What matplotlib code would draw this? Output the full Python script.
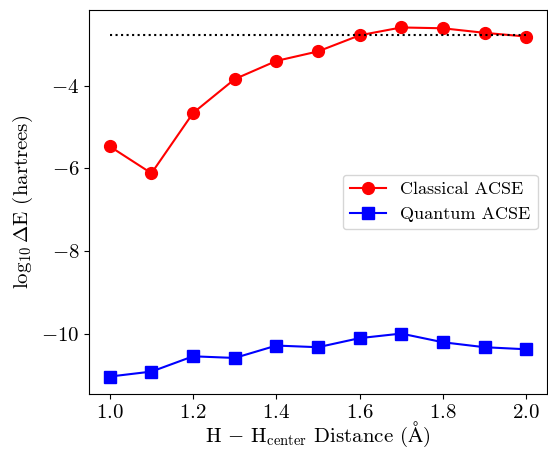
import numpy as np
import matplotlib
matplotlib.use("Agg")
import matplotlib.pyplot as plt

# data
distance = [1.0, 1.1, 1.2, 1.3, 1.4, 1.5, 1.6, 1.7, 1.8, 1.9, 2.0]
classical = [-5.47, -6.12, -4.66, -3.84, -3.40, -3.17, -2.78, -2.59, -2.61, -2.72, -2.81]
quantum = [-11.04, -10.92, -10.55, -10.59, -10.29, -10.33, -10.11, -10.00, -10.21, -10.33, -10.38]
reference_level = -2.77

plt.rcParams["font.family"] = "serif"
plt.rcParams["font.serif"] = ["cmr10"]
plt.rcParams["mathtext.fontset"] = "cm"
plt.rcParams["axes.formatter.use_mathtext"] = True

fig = plt.figure(figsize=(5.48, 4.49), dpi=100)
ax = fig.add_axes([89 / 548, 1 - 394 / 449, 458 / 548, 384 / 449])

ax.plot(distance, classical, "r-o", markersize=8.5, label="Classical ACSE")
ax.plot(distance, quantum, "b-s", markersize=8.5, label="Quantum ACSE")
ax.plot([distance[0], distance[-1]], [reference_level, reference_level], "k:")

ax.set_xticks([1.0, 1.2, 1.4, 1.6, 1.8, 2.0])
ax.set_yticks([-10, -8, -6, -4])
ax.tick_params(labelsize=15)
ax.set_xlabel(r"$\mathrm{H}\,-\,\mathrm{H}_{\mathrm{center}}$ Distance $(\mathrm{\AA})$",
              fontsize=15, labelpad=-1)
ax.set_ylabel(r"$\log_{10}\Delta$E (hartrees)", fontsize=15)
ax.legend(loc="center right", fontsize=13)

fig.savefig("out.png", dpi=100)
